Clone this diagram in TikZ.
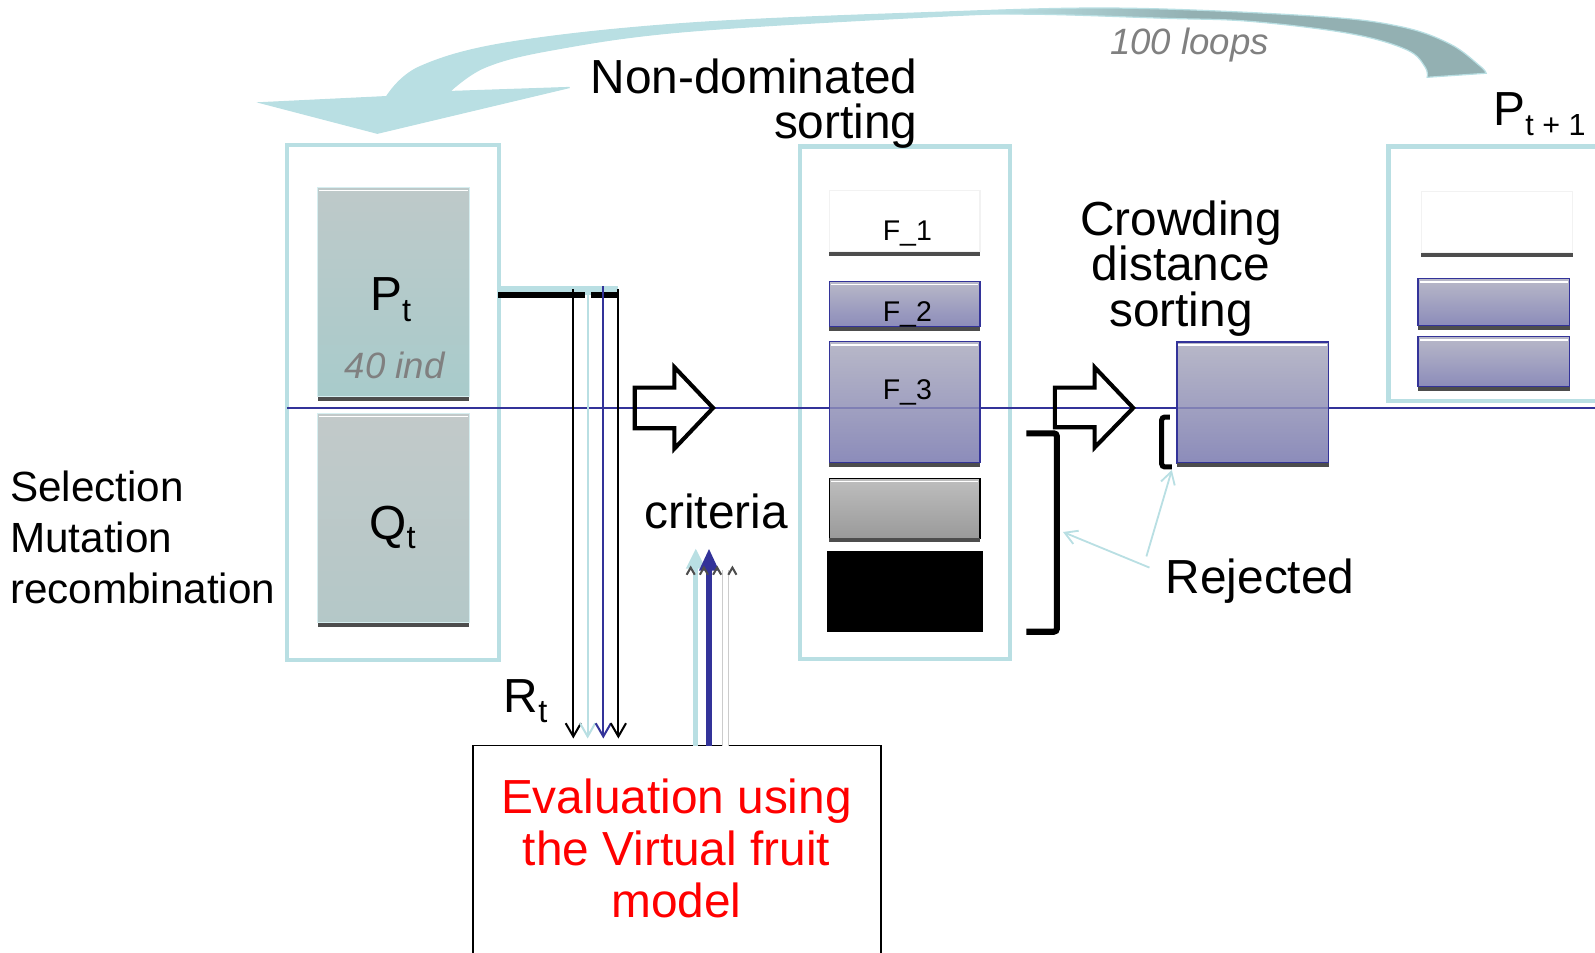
\documentclass[tikz,border=0pt]{standalone}
\usepackage{fontspec}
\setmainfont{Liberation Sans}
\usetikzlibrary{arrows.meta}
\definecolor{cy}{HTML}{B9DFE3}
\definecolor{cyL}{HTML}{D6EEF0}
\definecolor{navy}{HTML}{333399}
\definecolor{lavT}{HTML}{B8B8C8}
\definecolor{lavB}{HTML}{8C8CBA}
\definecolor{ptT}{HTML}{BEC9C9}
\definecolor{ptB}{HTML}{A8CBCB}
\definecolor{qtT}{HTML}{C2C9C9}
\definecolor{qtB}{HTML}{B4C8C8}
\definecolor{grT}{HTML}{BEBEBE}
\definecolor{grB}{HTML}{9A9A9A}
\definecolor{shad}{HTML}{4D4D4D}
\definecolor{tealD}{HTML}{93B0B2}
\definecolor{txtgray}{HTML}{808080}
\pgfdeclarehorizontalshading{loopsh}{100bp}{color(0bp)=(cy); color(25bp)=(cy); color(55bp)=(cy); color(63bp)=(tealD); color(100bp)=(tealD)}
\newcommand\myfs[2]{\fontsize{#1}{#2}\selectfont}
\begin{document}
\begin{tikzpicture}[x=1pt,y=-1pt,
  frame/.style={draw=cy, line width=4, inner sep=0, outer sep=0},
  popbox/.style={draw=cyL, line width=1, inner sep=0, outer sep=0},
  lavbox/.style={draw=navy, line width=1.5, top color=lavT, bottom color=lavB, inner sep=0, outer sep=0},
  whitebox/.style={draw=black!5, line width=1, fill=white, inner sep=0, outer sep=0},
  big/.style={inner sep=0, outer sep=0, font=\myfs{47}{45}},
  flbl/.style={inner sep=0, font=\myfs{28}{28}},
  hollow/.style={draw=black, line width=4, miter limit=10},
  rtarrow/.style={line width=2, -{Straight Barb[length=13,width=15]}},
  rejarrow/.style={draw=cy, line width=1.8, -{Straight Barb[length=12,width=14]}},
  bracket/.style={draw=black, line width=6, rounded corners=3}
]
\useasboundingbox (0,0) rectangle (1568,936);

% loop arrow
\path[shading=loopsh, draw=cy, line width=1.2]
 (256,101) -- (371,131) -- (560,86) -- (442,90)
 -- plot[smooth, tension=0.6] coordinates {(442,90) (477,66) (543,49) (674,31) (924,16) (1016,14) (1146,18) (1229,21) (1327,33) (1383,49) (1401,66) (1403,76)}
 -- (1461,72)
 -- plot[smooth, tension=0.6] coordinates {(1461,72) (1455,65) (1425,43) (1376,26) (1294,16) (1103,8) (924,12) (674,23) (499,42) (412,66) (380,95)}
 -- cycle;
\node[anchor=base west, inner sep=0, text=txtgray, font=\myfs{36}{36}\itshape] (loops) at (1091,54) {100 loops};

% frames
\node[frame, minimum width=208.5, minimum height=506] (popR) at (386.75,395.5) {};
\node[frame, minimum width=206.5, minimum height=503.5] (ndframe) at (889.75,395.75) {};
\node[frame, minimum width=260, minimum height=250.6] (nextframe) at (1495,269.3) {};

% cyan bar and black line from the Pt box
\fill[cy] (491,281) rectangle (608,290);
\draw[black, line width=5] (490,290) -- (575,290);
\draw[black, line width=5] (581,290) -- (608,290);

% blue line
\draw[navy, line width=1.5] (282,401) -- (1568,401);

% Pt and Qt
\node[popbox, top color=ptT, bottom color=ptB, minimum width=148.8, minimum height=205.8] (Pt) at (386.7,287.1) {};
\node[popbox, top color=qtT, bottom color=qtB, minimum width=148.8, minimum height=205.9] (Qt) at (386.7,509.25) {};

% F boxes
\node[whitebox, minimum width=148.1, minimum height=59.9] (F1) at (889.35,217.45) {};
\node[lavbox, minimum width=148.1, minimum height=44.3] (F2) at (889.35,299.05) {};
\node[lavbox, minimum width=148.1, minimum height=119] (F3) at (889.35,395.4) {};
\node[draw=black, line width=1.5, top color=grT, bottom color=grB, inner sep=0, outer sep=0, minimum width=148.1, minimum height=58.9] (gr) at (889.35,499.75) {};
\node[fill=black, inner sep=0, outer sep=0, minimum width=154, minimum height=79.3] (blk) at (889.7,581.35) {};

% crowding box
\node[lavbox, minimum width=149, minimum height=119] (crowd) at (1231.5,395.5) {};

% next population boxes
\node[whitebox, minimum width=149, minimum height=60] (n0) at (1471.5,218.5) {};
\node[lavbox, minimum width=149, minimum height=46] (n1) at (1468.5,297) {};
\node[lavbox, minimum width=149, minimum height=49] (n2) at (1468.5,355.5) {};

% shadows and highlights
\foreach \n in {Pt,Qt,F1,F2,F3,gr,crowd,n0,n1,n2}{
  \fill[shad] (\n.south west) rectangle ([yshift=-4pt]\n.south east);
}
\foreach \n in {Pt,Qt,F2,F3,gr,crowd,n1,n2}{
  \draw[white, line width=1.5] ([xshift=1.5pt,yshift=-3pt]\n.north west) -- ([xshift=-1.5pt,yshift=-3pt]\n.north east);
}

% faint blue line through the translucent boxes
\draw[navy, line width=1.5, opacity=0.3] (815,401) -- (964,401);
\draw[navy, line width=1.5, opacity=0.3] (1157,401) -- (1306,401);

% labels inside boxes
\node[anchor=base, inner sep=0] (ptl) at (384,305) {\myfs{47}{47}P\myfs{32}{32}\raisebox{-11pt}{t}};
\node[anchor=base, inner sep=0, text=txtgray, font=\myfs{36}{36}\itshape] (ind) at (388,372) {40 ind};
\node[anchor=base, inner sep=0] (qtl) at (386,530) {\myfs{47}{47}Q\myfs{32}{32}\raisebox{-9pt}{t}};
\node[flbl, anchor=base] (f1l) at (892,236) {F\_1};
\node[flbl, anchor=base] (f2l) at (892,316) {F\_2};
\node[flbl, anchor=base] (f3l) at (892,393) {F\_3};

% R_t arrows
\coordinate (ra) at (563.6,726);
\coordinate (rb) at (577.7,726);
\coordinate (rc) at (593.1,726);
\coordinate (rd) at (607.9,726);
\draw[rtarrow, black] (563.6,284) -- (ra);
\draw[rtarrow, cy] (577.7,281) -- (rb);
\draw[rtarrow, navy] (593.1,281) -- (rc);
\draw[rtarrow, black] (607.9,284) -- (rd);
\node[anchor=base west, inner sep=0] (rtl) at (495,700) {\myfs{47}{47}R\myfs{32}{32}\raisebox{-10pt}{t}};

% evaluation box
\node[draw=black, line width=1.5, inner sep=0, outer sep=0, minimum width=401, minimum height=240] (eval) at (665.5,853) {};
\node[big, anchor=north, align=center, text=red, font=\myfs{47}{51}] (evtxt) at (665,766) {Evaluation using\\the Virtual fruit\\model};

% criteria arrows
\node[big, anchor=base] (crit) at (704,520) {criteria};
\draw[cy, line width=5, -{Triangle[length=20,width=18]}] (eval.north -| 684,0) -- (684,539);
\draw[black!20, line width=7] (713,733) -- (713,560);
\draw[white, line width=5] (713,733) -- (713,558);
\draw[navy, line width=6, -{Triangle[length=22,width=18]}] (eval.north -| 697,0) -- (697,539);
\foreach \mx in {679,692,705,720}{
  \draw[shad, line width=2] (\mx-4,565) -- (\mx,558) -- (\mx+4,565);
}

% hollow arrows
\draw[hollow] (624,381) -- (663,381) -- (663,361) -- (701,401) -- (663,441) -- (663,421) -- (624,421) -- cycle;
\draw[hollow] (1037,381) -- (1076,381) -- (1076,361) -- (1114,401) -- (1076,440) -- (1076,420) -- (1037,420) -- cycle;

% brackets
\draw[bracket] (1009,426) -- (1039,426) -- (1039,621) -- (1009,621);
\draw[bracket, line width=5] (1150,410) -- (1142,410) -- (1142,459) -- (1152,459);

% rejected
\node[big, anchor=base west] (rej) at (1146,583) {Rejected};
\coordinate (rj1) at (1045,523);
\coordinate (rj2) at (1152,462);
\draw[rejarrow] (1130,558) -- (rj1);
\draw[rejarrow] (1127,547) -- (rj2);

% texts
\node[big, anchor=north east, align=right, font=\myfs{47}{44}] (nds) at (902,58) {Non-dominated\\sorting};
\node[big, anchor=north, align=center, font=\myfs{47}{45}] (cds) at (1161,197) {Crowding\\distance\\sorting};
\node[big, anchor=north west, align=left, font=\myfs{41.5}{50}] (sel) at (10,463) {Selection\\Mutation\\recombination};
\node[anchor=base west, inner sep=0] (ptn) at (1468,123) {\myfs{47}{47}P\myfs{30}{30}\raisebox{-10pt}{t + 1}};
\end{tikzpicture}
\end{document}
